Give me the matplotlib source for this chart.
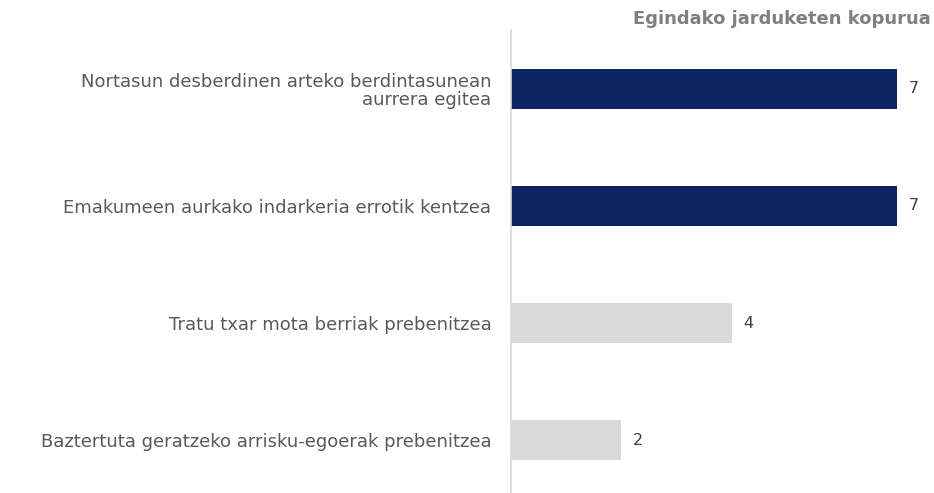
import matplotlib.pyplot as plt

plt.rcParams['font.family'] = ['DejaVu Sans']

categories = ['Nortasun desberdinen arteko berdintasunean\naurrera egitea',
              'Emakumeen aurkako indarkeria errotik kentzea',
              'Tratu txar mota berriak prebenitzea',
              'Baztertuta geratzeko arrisku-egoerak prebenitzea']
values = [7, 7, 4, 2]
colors = ['#0c2461', '#0c2461', '#d9d9d9', '#d9d9d9']

fig = plt.figure(figsize=(9.34, 4.93), dpi=100)
ax = fig.add_axes([0.547, 0.0, 0.44, 0.939])

pos = range(len(categories))
ax.barh(pos, values, height=0.34, color=colors)
ax.set_xlim(0, 7.45)
ax.set_ylim(3.45, -0.5)

for p, v in zip(pos, values):
    ax.text(v + 0.22, p, str(v), va='center', ha='left', fontsize=11.5, color='#404040')

ax.set_yticks(list(pos))
ax.set_yticklabels(categories, fontsize=13, color='#595959', ha='right', linespacing=1.05)
ax.tick_params(axis='y', length=0, pad=14)
ax.set_xticks([])
for s in ['top', 'right', 'bottom']:
    ax.spines[s].set_visible(False)
ax.spines['left'].set_color('#d9d9d9')
ax.spines['left'].set_linewidth(1.2)

fig.text(0.996, 0.962, 'Egindako jarduketen kopurua', ha='right', va='center',
         fontsize=13, fontweight='bold', color='#7f7f7f')

plt.savefig('out.png')
